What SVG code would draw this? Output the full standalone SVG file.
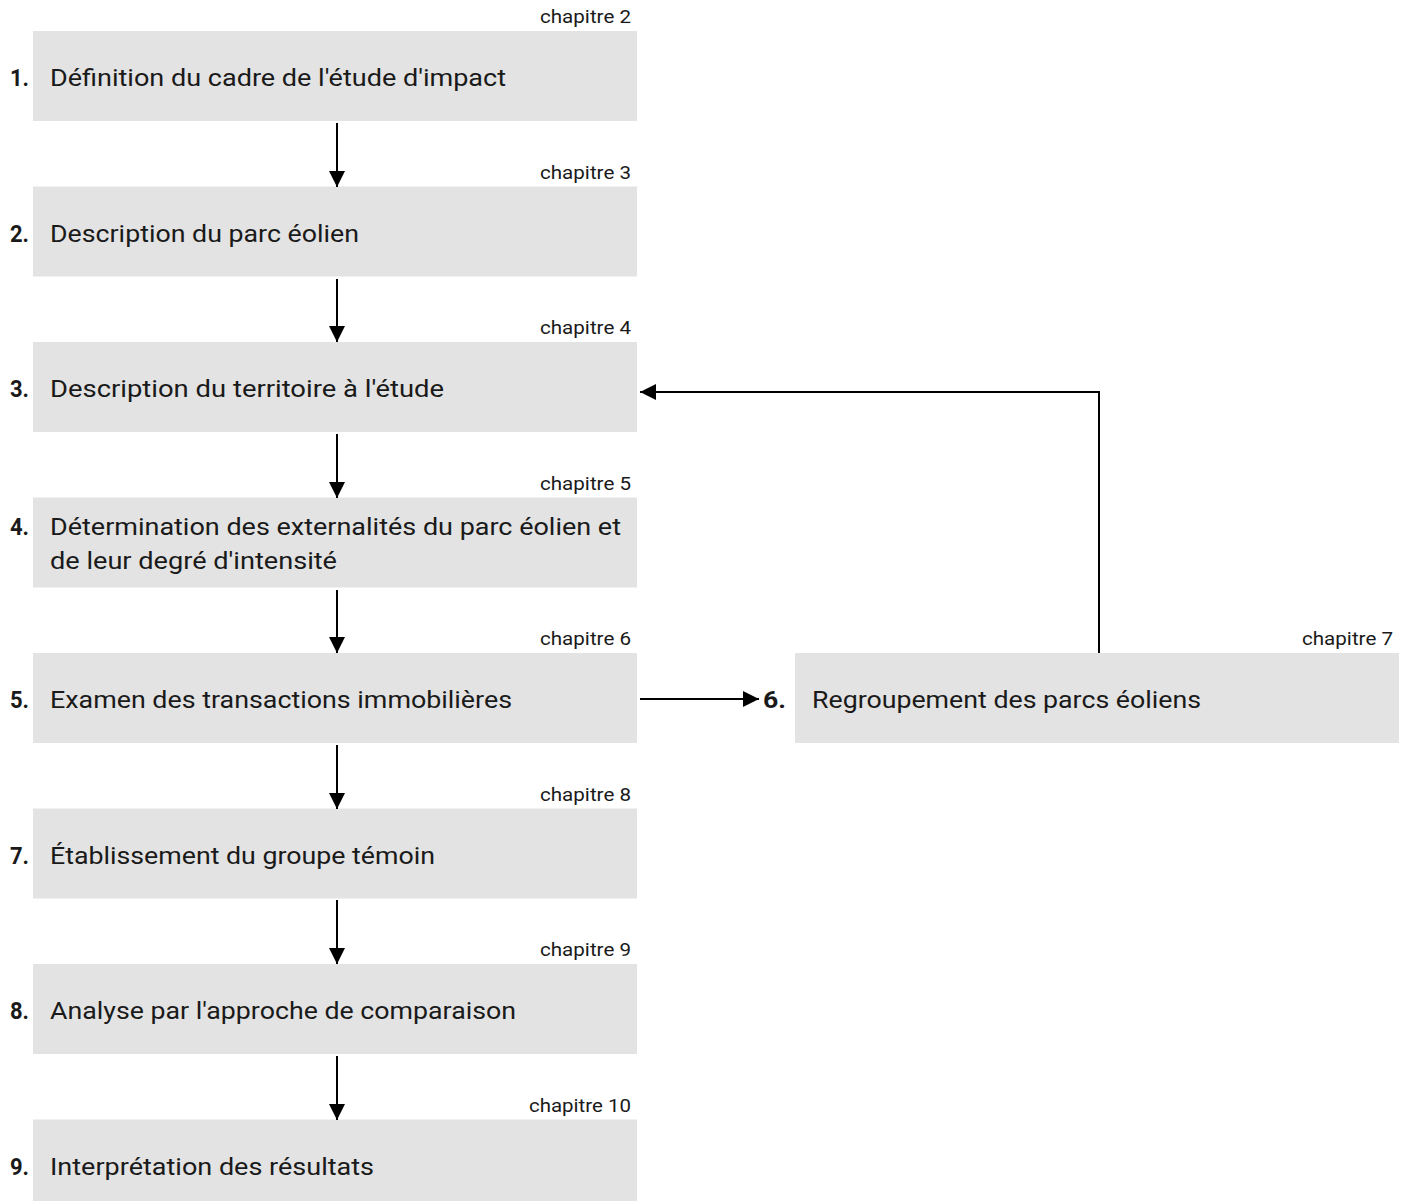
<svg xmlns="http://www.w3.org/2000/svg" width="1410" height="1201" viewBox="0 0 1410 1201">
<style>
.box{fill:#e3e3e3}
.t{font-family:Roboto,"Liberation Sans",sans-serif;font-size:24px;fill:#1a1a1a}
.n{font-family:Roboto,"Liberation Sans",sans-serif;font-size:24px;font-weight:bold;fill:#1a1a1a}
.c{font-family:Roboto,"Liberation Sans",sans-serif;font-size:19px;fill:#1a1a1a;text-anchor:end}
.e{stroke:#000;stroke-width:2;fill:none}
</style>
<defs>
<marker id="ah" viewBox="0 0 16 16" refX="16" refY="8" markerWidth="16" markerHeight="16" markerUnits="userSpaceOnUse" orient="auto">
<path d="M0,0 L16,8 L0,16 Z" fill="#000"/>
</marker>
</defs>
<g id="n1">
<rect class="box" x="33" y="31" width="604" height="90"/>
<text class="c" x="631" y="23" textLength="91" lengthAdjust="spacingAndGlyphs">chapitre 2</text>
<text class="n" x="10" y="86" textLength="19" lengthAdjust="spacingAndGlyphs">1.</text>
<text class="t" x="50" y="86" textLength="456" lengthAdjust="spacingAndGlyphs">Définition du cadre de l'étude d'impact</text>
</g>
<g id="n2">
<rect class="box" x="33" y="186.5" width="604" height="90"/>
<text class="c" x="631" y="178.5" textLength="91" lengthAdjust="spacingAndGlyphs">chapitre 3</text>
<text class="n" x="10" y="241.5" textLength="19" lengthAdjust="spacingAndGlyphs">2.</text>
<text class="t" x="50" y="241.5" textLength="309" lengthAdjust="spacingAndGlyphs">Description du parc éolien</text>
</g>
<g id="n3">
<rect class="box" x="33" y="342" width="604" height="90"/>
<text class="c" x="631" y="334" textLength="91" lengthAdjust="spacingAndGlyphs">chapitre 4</text>
<text class="n" x="10" y="397" textLength="19" lengthAdjust="spacingAndGlyphs">3.</text>
<text class="t" x="50" y="397" textLength="394" lengthAdjust="spacingAndGlyphs">Description du territoire à l'étude</text>
</g>
<g id="n4">
<rect class="box" x="33" y="497.5" width="604" height="90"/>
<text class="c" x="631" y="489.5" textLength="91" lengthAdjust="spacingAndGlyphs">chapitre 5</text>
<text class="n" x="10" y="535" textLength="19" lengthAdjust="spacingAndGlyphs">4.</text>
<text class="t" x="50" y="535" textLength="571" lengthAdjust="spacingAndGlyphs">Détermination des externalités du parc éolien et</text>
<text class="t" x="50" y="569" textLength="287" lengthAdjust="spacingAndGlyphs">de leur degré d'intensité</text>
</g>
<g id="n5">
<rect class="box" x="33" y="653" width="604" height="90"/>
<text class="c" x="631" y="645" textLength="91" lengthAdjust="spacingAndGlyphs">chapitre 6</text>
<text class="n" x="10" y="708" textLength="19" lengthAdjust="spacingAndGlyphs">5.</text>
<text class="t" x="50" y="708" textLength="462" lengthAdjust="spacingAndGlyphs">Examen des transactions immobilières</text>
</g>
<g id="n6">
<rect class="box" x="795" y="653" width="604" height="90"/>
<text class="c" x="1393" y="645" textLength="91" lengthAdjust="spacingAndGlyphs">chapitre 7</text>
<text class="n" x="763" y="708" textLength="23" lengthAdjust="spacingAndGlyphs">6.</text>
<text class="t" x="812" y="708" textLength="389" lengthAdjust="spacingAndGlyphs">Regroupement des parcs éoliens</text>
</g>
<g id="n7">
<rect class="box" x="33" y="808.5" width="604" height="90"/>
<text class="c" x="631" y="800.5" textLength="91" lengthAdjust="spacingAndGlyphs">chapitre 8</text>
<text class="n" x="10" y="863.5" textLength="19" lengthAdjust="spacingAndGlyphs">7.</text>
<text class="t" x="50" y="863.5" textLength="385" lengthAdjust="spacingAndGlyphs">Établissement du groupe témoin</text>
</g>
<g id="n8">
<rect class="box" x="33" y="964" width="604" height="90"/>
<text class="c" x="631" y="956" textLength="91" lengthAdjust="spacingAndGlyphs">chapitre 9</text>
<text class="n" x="10" y="1019" textLength="19" lengthAdjust="spacingAndGlyphs">8.</text>
<text class="t" x="50" y="1019" textLength="466" lengthAdjust="spacingAndGlyphs">Analyse par l'approche de comparaison</text>
</g>
<g id="n9">
<rect class="box" x="33" y="1119.5" width="604" height="90"/>
<text class="c" x="631" y="1111.5" textLength="102" lengthAdjust="spacingAndGlyphs">chapitre 10</text>
<text class="n" x="10" y="1174.5" textLength="19" lengthAdjust="spacingAndGlyphs">9.</text>
<text class="t" x="50" y="1174.5" textLength="324" lengthAdjust="spacingAndGlyphs">Interprétation des résultats</text>
</g>
<g id="edges">
<line class="e" x1="337" y1="123" x2="337" y2="187" marker-end="url(#ah)"/>
<line class="e" x1="337" y1="279" x2="337" y2="342" marker-end="url(#ah)"/>
<line class="e" x1="337" y1="434" x2="337" y2="498" marker-end="url(#ah)"/>
<line class="e" x1="337" y1="590" x2="337" y2="653" marker-end="url(#ah)"/>
<line class="e" x1="337" y1="745" x2="337" y2="809" marker-end="url(#ah)"/>
<line class="e" x1="337" y1="900" x2="337" y2="964" marker-end="url(#ah)"/>
<line class="e" x1="337" y1="1056" x2="337" y2="1120" marker-end="url(#ah)"/>
<line class="e" x1="640" y1="699" x2="759" y2="699" marker-end="url(#ah)"/>
<polyline class="e" points="1099,653 1099,392 640,392" marker-end="url(#ah)"/>
</g>
</svg>
